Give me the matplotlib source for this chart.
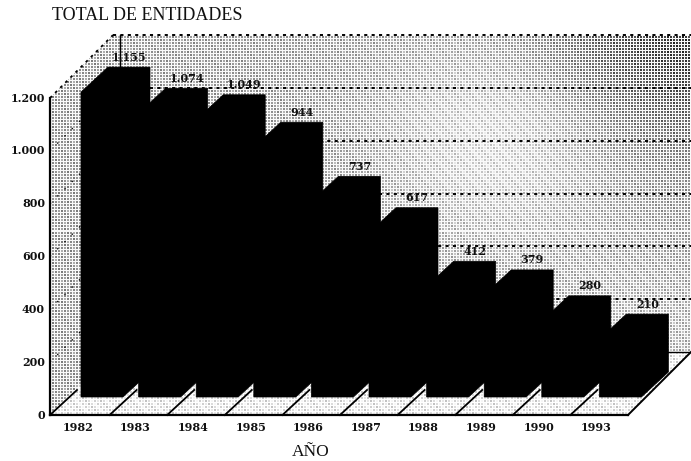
import numpy as np
import matplotlib
matplotlib.use('Agg')
import matplotlib.pyplot as plt
from matplotlib.patches import Polygon

years = ['1982','1983','1984','1985','1986','1987','1988','1989','1990','1993']
totals = [1155,1074,1049,944,737,617,412,379,280,210]
labels = ['1.155','1.074','1.049','944','737','617','412','379','280','210']
yticks = [0,200,400,600,800,1000,1200]
yticklabels = ['0','200','400','600','800','1.000','1.200']

W,H = 691,461
fig = plt.figure(figsize=(W/100,H/100),dpi=100,facecolor='white')
ax = fig.add_axes([0,0,1,1]); ax.set_xlim(0,W); ax.set_ylim(H,0); ax.axis('off')

X0,Y0 = 50,415; XR = 628; D = 63; PX = 317/1200
BX,BY = 81,397; BW = 42; DX,DY = 27,25; PITCH = 57.6
LIFT = 3; BARPX = 0.2614
SER = 'Liberation Serif'

# halftone screen: 3 px grid of dots whose grey varies smoothly across the wall
yy,xx = np.mgrid[0:H,0:W]
gridline = (xx%3==0)|(yy%3==0)
ripple = (((xx//3)*7+(yy//3)*13)%5-2)*0.05
def screen(dark, line=0.98):
    cell = np.clip(1-dark+ripple,0,1)
    return np.where(gridline,line,cell)
def g(cx,cy,sx,sy):
    return np.exp(-((xx-cx)/sx)**2-((yy-cy)/sy)**2)
dark = 0.40-0.25*g(500,140,120,110)+0.40*g(691,35,150,110)-0.10*g(640,330,100,70)

def fill(poly,img,z):
    im = ax.imshow(img,cmap='gray',vmin=0,vmax=1,extent=(0,W,H,0),interpolation='nearest',zorder=z,aspect='auto')
    p = Polygon(poly,closed=True,fc='none',ec='none',transform=ax.transData); ax.add_patch(p)
    im.set_clip_path(p)
fill([(X0+D,Y0-D),(W,Y0-D),(W,35),(X0+D,35)],screen(dark),1)
fill([(X0,Y0),(X0+D,Y0-D),(X0+D,35),(X0,98)],screen(np.full_like(dark,0.42)),1)
fill([(X0,Y0),(XR,Y0),(XR+D,Y0-D),(X0+D,Y0-D)],screen(np.full_like(dark,0.14),1.0),1)
ax.set_xlim(0,W); ax.set_ylim(H,0)

# grid on walls
for t in yticks[1:]:
    y = Y0-D-t*PX
    ax.plot([X0+D,W],[y,y],color='k',lw=1.4,ls=(0,(1.6,2.2)),zorder=2)
    ax.plot([X0,X0+D],[y+D,y],color='k',lw=1.3 if t==1200 else 0.9,ls=(0,(1.5,2.5)) if t==1200 else (0,(1.2,7)),zorder=2)
ax.plot([X0+D+7,X0+D+7],[35,Y0-D],color='k',lw=1,zorder=2)
ax.plot([X0+D,XR+D],[Y0-D,Y0-D],color='k',lw=1,zorder=2)
ax.plot([X0,X0],[98,Y0],color='k',lw=1.6,zorder=3)
ax.plot([X0,XR],[Y0,Y0],color='k',lw=1.6,zorder=3)
ax.plot([XR,XR+D],[Y0,Y0-D],color='k',lw=1.4,zorder=3)

# floor dividers with light stripe
for i in range(len(years)):
    xs = X0+PITCH*i+(2 if i else 0)
    ax.plot([xs,xs+27],[Y0,Y0-25],color='k',lw=1.3,zorder=3)
    if i:
        ax.plot([xs+14,xs+27],[Y0-21,Y0-33],color='white',lw=3,zorder=3)
ax.plot([XR+6,XR+40],[Y0-18,Y0-48],color='white',lw=3,zorder=3)

# bars
for i,(v_,lab) in enumerate(zip(totals,labels)):
    x = BX+PITCH*i; h = v_*BARPX+LIFT
    ax.add_patch(Polygon([(x,BY),(x+BW,BY),(x+BW+DX,BY-DY),(x+BW+DX,BY-DY-h),(x+DX,BY-DY-h),(x,BY-h)],
                         closed=True,fc='black',ec='black',lw=0.5,zorder=4))
    ax.text(x+DX+BW/2,BY-DY-h-10,lab,ha='center',va='center',fontsize=8,family='DejaVu Serif',weight='bold',zorder=5,color='#111111')
    ax.text(x-3,427,years[i],ha='center',va='center',fontsize=8,family='DejaVu Serif',weight='bold',color='#111111')

for t,l in zip(yticks,yticklabels):
    ax.text(45,Y0-t*PX,l,ha='right',va='center',fontsize=8,family='DejaVu Serif',weight='bold',color='#111111')

ax.text(52,15,'TOTAL DE ENTIDADES',ha='left',va='center',fontsize=13,family=SER,color='#111111')
ax.text(311,452,'AÑO',ha='center',va='center',fontsize=12.5,family=SER,color='#111111')
fig.savefig('out.png',dpi=100)
